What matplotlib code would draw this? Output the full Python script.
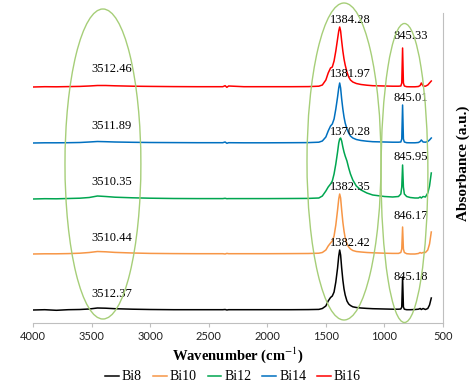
import matplotlib
matplotlib.use("Agg")
import matplotlib.pyplot as plt
from matplotlib.patches import Ellipse

plt.rcParams['mathtext.fontset'] = 'stix'

# ---------------- data ----------------
wavenumber = [4000, 3900, 3800, 3700, 3600, 3520, 3450, 3380, 3300, 3150, 3000, 2800, 2600,
              2380, 2360, 2345, 2330, 2200, 2000, 1800, 1650, 1560, 1530, 1500, 1480, 1460,
              1445, 1430, 1415, 1400, 1390, 1382, 1374, 1365, 1355, 1345, 1335, 1320, 1305,
              1290, 1270, 1240, 1200, 1150, 1100, 1000, 930, 880, 860, 852, 845, 838, 830,
              810, 780, 740, 710, 695, 685, 670, 650, 630, 615, 600]

bi8 = [0, 0.3, -0.3, 0.3, 0.5, 1.0, 2.0, 1.8, 1.3, 0.8, 0.5, 0.3, 0.3,
       0.3, 0.5, 0.0, 0.3, 0.3, 0.3, 0.3, 0.4, 0.6, 1.5, 4, 9, 12.5,
       14, 18, 28, 42, 54, 60, 55, 42, 30, 21, 15, 9, 6,
       4.5, 3.2, 2.5, 2, 1.6, 1.3, 1, 0.8, 0.8, 1, 3, 33, 3, 0.8,
       0.3, 0.3, 0.5, 0.8, 1.5, 0.5, 1.5, 0.5, 1.5, 5, 12]

bi10 = [0, 0.2, 0.2, 0.4, 0.8, 1.5, 2.5, 2.2, 1.6, 1.0, 0.6, 0.4, 0.3,
        0.3, 0.0, 0.6, 0.3, 0.3, 0.3, 0.4, 0.5, 0.8, 1.5, 4, 8, 11,
        13, 18, 29, 44, 55, 60, 56, 44, 32, 23, 16, 10, 7,
        5, 3.5, 2.5, 2, 1.5, 1.2, 0.8, 0.6, 0.6, 1.5, 5, 27, 5, 1.5,
        0.3, 0.0, 0.0, 0.5, 1.5, 0.8, 1.5, 1.5, 4, 10, 22]

bi12 = [0, 0.3, 0.2, 0.5, 0.8, 1.5, 3.0, 2.5, 1.8, 1.2, 0.8, 0.5, 0.4,
        0.4, 0.7, 0.3, 0.4, 0.4, 0.4, 0.5, 0.6, 1.0, 3, 8, 12, 15,
        18, 25, 35, 47, 56, 60, 61, 58, 52, 47, 43, 38, 31,
        25, 19, 13, 9, 6, 4, 2.5, 2, 2.5, 5, 12, 34, 12, 5,
        2.5, 1.5, 1, 1, 2, 1, 2.5, 2, 6, 13, 26]

bi14 = [0, 0.2, 0.2, 0.3, 0.5, 1.0, 1.5, 1.3, 1.0, 0.7, 0.5, 0.4, 0.3,
        0.3, 1.0, -0.3, 0.3, 0.2, 0.2, 0.3, 0.4, 0.8, 2, 6, 12, 17,
        19, 24, 34, 46, 55, 60, 55, 44, 34, 26, 20, 14, 10,
        7, 5, 3.5, 2.5, 1.8, 1.3, 1, 0.8, 0.8, 1, 4, 38, 4, 1,
        0.3, 0.2, 0.2, 0.5, 1.5, 3, 1, 0.8, 1.5, 3, 5]

bi16 = [0, 0.3, 0.2, 0.4, 0.6, 1.0, 1.5, 1.5, 1.2, 0.8, 0.6, 0.4, 0.3,
        0.3, 1.3, -0.3, 1.0, 0.3, 0.3, 0.3, 0.4, 0.8, 2, 7, 14, 19,
        20, 26, 36, 48, 56, 60, 56, 46, 36, 28, 22, 15, 10,
        7, 5, 3.5, 2.5, 1.8, 1.3, 1, 0.8, 0.8, 1, 4, 39, 4, 1,
        0.3, 0.2, 0.2, 0.5, 1.5, 4, 1, 0.8, 2, 4, 6]

series_names = ['Bi8', 'Bi10', 'Bi12', 'Bi14', 'Bi16']
series_values = [bi8, bi10, bi12, bi14, bi16]

# peak labels per series: (broad OH band, main band, sharp band)
oh_labels = ['3512.37', '3510.44', '3510.35', '3511.89', '3512.46']
main_labels = ['1382.42', '1382.35', '1370.28', '1381.97', '1384.28']
sharp_labels = ['845.18', '846.17', '845.95', '845.01', '845.33']

# ---------------- style / layout ----------------
colors = ['#000000', '#F79646', '#00A650', '#0070C0', '#FF0000']
offsets = [13, 69, 124, 180, 236]
label_dy_oh = [16, 16, 17, 17, 18]
label_dy_main = [67, 67, 67, 69, 67]
label_dy_sharp = [33, 38, 42, 45, 51]
ellipse_color = '#A6CE78'

W, H = 474, 386
fig = plt.figure(figsize=(W / 100, H / 100), dpi=100)
ax = fig.add_axes([33 / W, (H - 323) / H, 410 / W, 320 / H])

for name, vals, col, off in zip(series_names, series_values, colors, offsets):
    ax.plot(wavenumber, [v + off for v in vals], color=col, lw=1.1, label=name)

serif = 'Liberation Serif'
for i, off in enumerate(offsets):
    ax.text(3326, off + label_dy_oh[i], oh_labels[i], ha='center', va='center',
            fontsize=9, family=serif)
    ax.text(1294, off + label_dy_main[i], main_labels[i], ha='center', va='center',
            fontsize=9, family=serif)
    ax.text(773, off + label_dy_sharp[i], sharp_labels[i], ha='center', va='center',
            fontsize=9, family=serif)

for (cx, cy, w, h) in [(3403, 159, 648, 310), (1345, 161.5, 632, 317), (829, 150, 400, 299)]:
    ax.add_patch(Ellipse((cx, cy), w, h, fill=False, edgecolor=ellipse_color,
                         lw=1.0, clip_on=False, zorder=3))

ax.set_xlim(4000, 500)
ax.set_ylim(0, 320)
ax.set_xticks(range(4000, 499, -500))
ax.set_yticks([])
for s in ['top', 'left']:
    ax.spines[s].set_visible(False)
ax.spines['bottom'].set_color('#BFBFBF')
ax.spines['right'].set_color('#BFBFBF')
ax.spines['right'].set_bounds(0, 310)
ax.tick_params(axis='x', colors='#BFBFBF', length=3, pad=3, labelsize=8,
               labelcolor='#222222')
for lab in ax.get_xticklabels():
    lab.set_family('Lato')

ax.set_xlabel('Wavenumber (cm$^{-1}$)', family=serif, fontweight='bold',
              fontsize=10.5, labelpad=2)
ax.yaxis.set_label_position('right')
ax.set_ylabel('Absorbance (a.u.)', family=serif, fontweight='bold', fontsize=11,
              labelpad=10)

leg = ax.legend(loc='center', bbox_to_anchor=(233 / W, 1 - 377 / H),
                bbox_transform=fig.transFigure, ncol=5, frameon=False,
                handlelength=1.0, handletextpad=0.2, columnspacing=0.8,
                prop={'family': serif, 'size': 10})

fig.savefig('out.png', dpi=100)
